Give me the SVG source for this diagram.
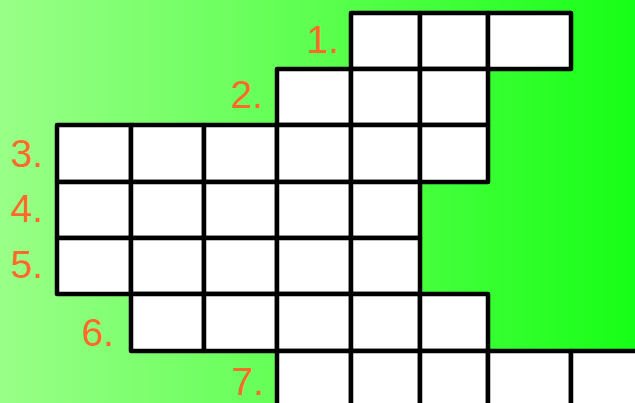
<svg xmlns="http://www.w3.org/2000/svg" width="635" height="403" viewBox="0 0 635 403">
<defs>
<linearGradient id="bg" x1="0" y1="0" x2="1" y2="0">
<stop offset="0" stop-color="#99ff88"/>
<stop offset="0.5" stop-color="#5cff4f"/>
<stop offset="1" stop-color="#16ff16"/>
</linearGradient>
<style>
.c{fill:#fff;stroke:#000;stroke-width:4.5;stroke-linejoin:round}
.l{fill:#ff6a2a;font-family:"Liberation Sans","DejaVu Sans",sans-serif;font-size:39px;text-anchor:end}
</style>
</defs>
<rect x="0" y="0" width="635" height="403" fill="url(#bg)"/>
<g id="row1">
<rect class="c" x="351" y="13" width="69" height="56"/>
<rect class="c" x="420" y="13" width="68" height="56"/>
<rect class="c" x="488" y="13" width="83" height="56"/>
<text class="l" x="339" y="53">1.</text>
</g>
<g id="row2">
<rect class="c" x="277" y="69" width="74" height="56"/>
<rect class="c" x="351" y="69" width="69" height="56"/>
<rect class="c" x="420" y="69" width="68" height="56"/>
<text class="l" x="263" y="108">2.</text>
</g>
<g id="row3">
<rect class="c" x="57" y="125" width="74" height="57"/>
<rect class="c" x="131" y="125" width="73" height="57"/>
<rect class="c" x="204" y="125" width="73" height="57"/>
<rect class="c" x="277" y="125" width="74" height="57"/>
<rect class="c" x="351" y="125" width="69" height="57"/>
<rect class="c" x="420" y="125" width="68" height="57"/>
<text class="l" x="43" y="167">3.</text>
</g>
<g id="row4">
<rect class="c" x="57" y="182" width="74" height="56"/>
<rect class="c" x="131" y="182" width="73" height="56"/>
<rect class="c" x="204" y="182" width="73" height="56"/>
<rect class="c" x="277" y="182" width="74" height="56"/>
<rect class="c" x="351" y="182" width="69" height="56"/>
<text class="l" x="43" y="222">4.</text>
</g>
<g id="row5">
<rect class="c" x="57" y="238" width="74" height="56"/>
<rect class="c" x="131" y="238" width="73" height="56"/>
<rect class="c" x="204" y="238" width="73" height="56"/>
<rect class="c" x="277" y="238" width="74" height="56"/>
<rect class="c" x="351" y="238" width="69" height="56"/>
<text class="l" x="43" y="278">5.</text>
</g>
<g id="row6">
<rect class="c" x="131" y="294" width="73" height="57"/>
<rect class="c" x="204" y="294" width="73" height="57"/>
<rect class="c" x="277" y="294" width="74" height="57"/>
<rect class="c" x="351" y="294" width="69" height="57"/>
<rect class="c" x="420" y="294" width="68" height="57"/>
<text class="l" x="114" y="346">6.</text>
</g>
<g id="row7">
<rect class="c" x="277" y="351" width="74" height="60"/>
<rect class="c" x="351" y="351" width="69" height="60"/>
<rect class="c" x="420" y="351" width="68" height="60"/>
<rect class="c" x="488" y="351" width="83" height="60"/>
<rect class="c" x="571" y="351" width="80" height="60"/>
<text class="l" x="264" y="395">7.</text>
</g>
</svg>
